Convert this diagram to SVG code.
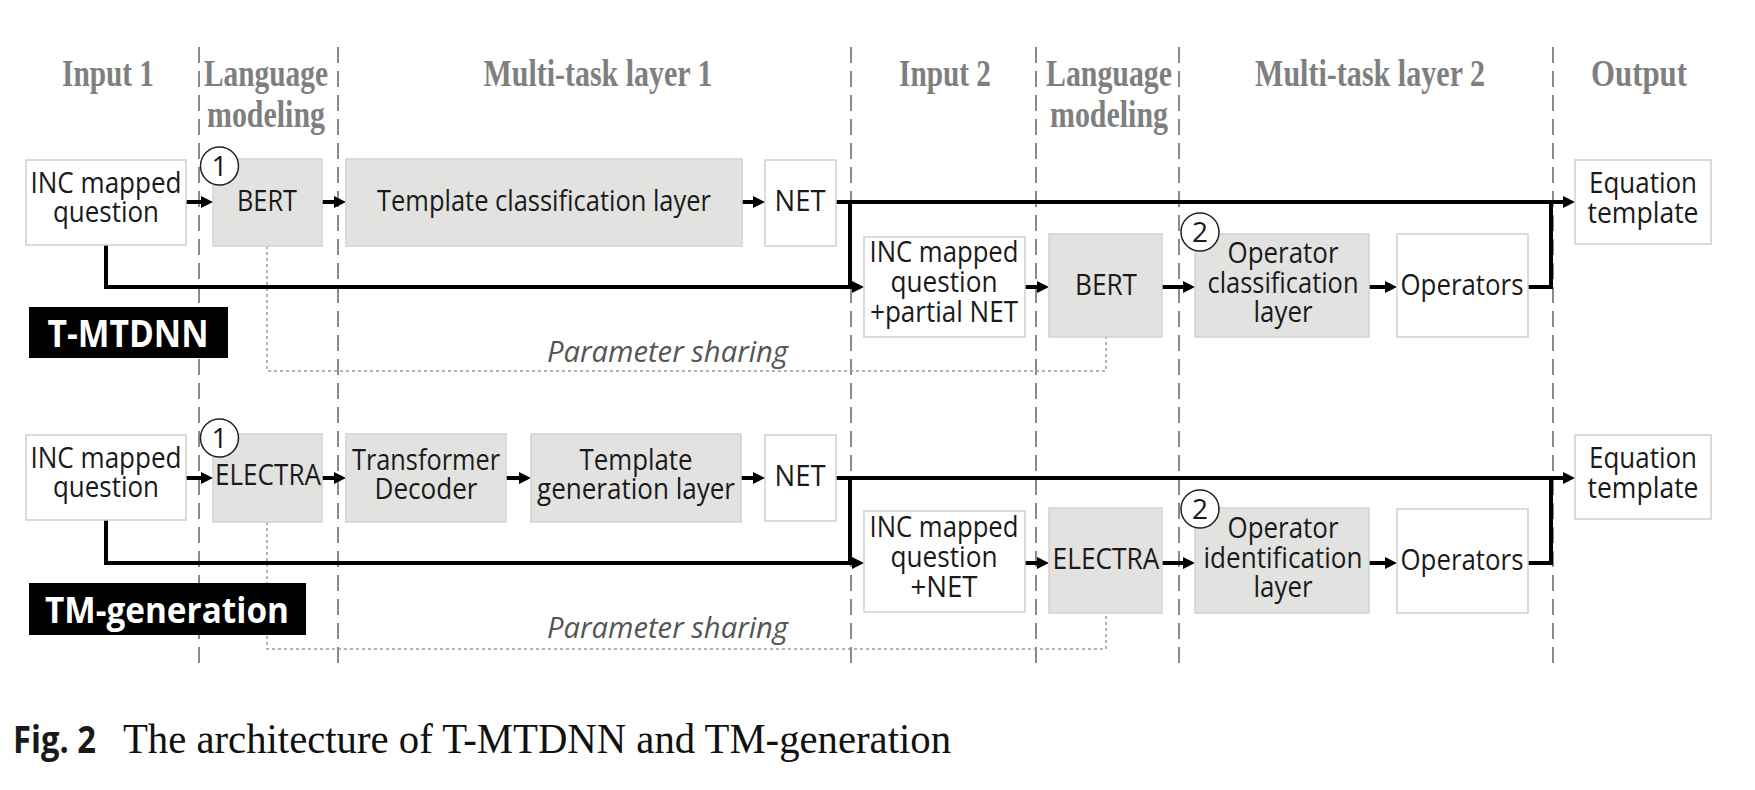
<svg xmlns="http://www.w3.org/2000/svg" width="1755" height="790" viewBox="0 0 1755 790">
<style>
.hdr{font-family:"Liberation Serif",serif;font-weight:bold;font-size:37px;fill:#7f7f7f;text-anchor:middle}
.bt{font-family:"Open Sans","Noto Sans",sans-serif;font-size:30px;fill:#1a1a1a;text-anchor:middle}
.wb{fill:#fff;stroke:#cfcfcf;stroke-width:1.5}
.gb{fill:#e2e2e1;stroke:#d2d2d2;stroke-width:1.5}
.sep{stroke:#8a8a8a;stroke-width:2;stroke-dasharray:16 8;fill:none}
.ln{stroke:#000;stroke-width:4;fill:none}
.arr{marker-end:url(#ah)}
.dot{stroke:#9a9a9a;stroke-width:1.5;stroke-dasharray:3 3;fill:none}
.circ{fill:#fff;stroke:#222;stroke-width:1.5}
.ct{font-family:"Open Sans","Noto Sans",sans-serif;font-size:28px;fill:#1a1a1a;text-anchor:middle}
.lbl{font-family:"Open Sans","Noto Sans",sans-serif;font-weight:bold;fill:#fff;text-anchor:middle}
.ps{font-family:"Open Sans","Noto Sans",sans-serif;font-style:italic;font-size:30px;fill:#555}
</style>
<defs>
<marker id="ah" markerUnits="userSpaceOnUse" viewBox="0 0 12 12" markerWidth="12" markerHeight="12" refX="6" refY="6" orient="auto">
<path d="M0,0 L12,6 L0,12 z" fill="#000"/>
</marker>
</defs>
<rect width="1755" height="790" fill="#fff"/>

<g id="separators">
<line class="sep" x1="199" y1="47" x2="199" y2="664"/>
<line class="sep" x1="338" y1="47" x2="338" y2="664"/>
<line class="sep" x1="851" y1="47" x2="851" y2="664"/>
<line class="sep" x1="1036" y1="47" x2="1036" y2="664"/>
<line class="sep" x1="1179" y1="47" x2="1179" y2="664"/>
<line class="sep" x1="1553" y1="47" x2="1553" y2="664"/>
</g>

<g id="headers">
<text class="hdr" x="108" y="86" textLength="92" lengthAdjust="spacingAndGlyphs">Input 1</text>
<text class="hdr"><tspan x="266" y="86" textLength="124" lengthAdjust="spacingAndGlyphs">Language</tspan><tspan x="266" y="127" textLength="118" lengthAdjust="spacingAndGlyphs">modeling</tspan></text>
<text class="hdr" x="598" y="86" textLength="229" lengthAdjust="spacingAndGlyphs">Multi-task layer 1</text>
<text class="hdr" x="945" y="86" textLength="92" lengthAdjust="spacingAndGlyphs">Input 2</text>
<text class="hdr"><tspan x="1109" y="86" textLength="126" lengthAdjust="spacingAndGlyphs">Language</tspan><tspan x="1109" y="127" textLength="118" lengthAdjust="spacingAndGlyphs">modeling</tspan></text>
<text class="hdr" x="1370" y="86" textLength="230" lengthAdjust="spacingAndGlyphs">Multi-task layer 2</text>
<text class="hdr" x="1639" y="86" textLength="96" lengthAdjust="spacingAndGlyphs">Output</text>
</g>

<g id="sharing">
<path class="dot" d="M267 246 V371 H1106 V337"/>
<path class="dot" d="M267 522 V649 H1106 V613"/>
<text class="ps" x="547" y="362" textLength="241" lengthAdjust="spacingAndGlyphs">Parameter sharing</text>
<text class="ps" x="547" y="638" textLength="241" lengthAdjust="spacingAndGlyphs">Parameter sharing</text>
</g>

<g id="connectors">
<path class="ln arr" d="M186 202 H207"/>
<path class="ln arr" d="M322 202 H340"/>
<path class="ln arr" d="M742 202 H759"/>
<path class="ln arr" d="M836 202 H1569"/>
<path class="ln arr" d="M106 245 V287 H858"/>
<path class="ln" d="M850 202 V287"/>
<path class="ln arr" d="M1025 287 H1043"/>
<path class="ln arr" d="M1162 287 H1189"/>
<path class="ln arr" d="M1369 287 H1391"/>
<path class="ln" d="M1528 287 H1551 V202"/>
<path class="ln arr" d="M186 478 H207"/>
<path class="ln arr" d="M322 478 H340"/>
<path class="ln arr" d="M506 478 H525"/>
<path class="ln arr" d="M741 478 H759"/>
<path class="ln arr" d="M836 478 H1569"/>
<path class="ln arr" d="M106 520 V563 H858"/>
<path class="ln" d="M850 478 V563"/>
<path class="ln arr" d="M1025 563 H1043"/>
<path class="ln arr" d="M1162 563 H1189"/>
<path class="ln arr" d="M1369 563 H1391"/>
<path class="ln" d="M1528 563 H1551 V478"/>
</g>

<g id="t-inc">
<rect class="wb" x="26" y="160" width="160" height="85"/>
<text class="bt"><tspan x="106" y="193" textLength="151" lengthAdjust="spacingAndGlyphs">INC mapped</tspan><tspan x="106" y="222" textLength="106" lengthAdjust="spacingAndGlyphs">question</tspan></text>
</g>
<g id="t-bert">
<rect class="gb" x="213" y="159" width="109" height="87"/>
<text class="bt" x="267" y="211" textLength="60" lengthAdjust="spacingAndGlyphs">BERT</text>
</g>
<g id="t-circle1">
<circle class="circ" cx="219.5" cy="166" r="19"/>
<text class="ct" x="219.5" y="176">1</text>
</g>
<g id="t-tcl">
<rect class="gb" x="346" y="159" width="396" height="87"/>
<text class="bt" x="544" y="211" textLength="334" lengthAdjust="spacingAndGlyphs">Template classification layer</text>
</g>
<g id="t-net">
<rect class="wb" x="765" y="160" width="71" height="86"/>
<text class="bt" x="800" y="211" textLength="51" lengthAdjust="spacingAndGlyphs">NET</text>
</g>
<g id="t-eq">
<rect class="wb" x="1575" y="160" width="136" height="84"/>
<text class="bt"><tspan x="1643" y="193" textLength="108" lengthAdjust="spacingAndGlyphs">Equation</tspan><tspan x="1643" y="223" textLength="111" lengthAdjust="spacingAndGlyphs">template</tspan></text>
</g>
<g id="t-inc2">
<rect class="wb" x="864" y="237" width="161" height="100"/>
<text class="bt"><tspan x="944" y="262" textLength="149" lengthAdjust="spacingAndGlyphs">INC mapped</tspan><tspan x="944" y="292" textLength="107" lengthAdjust="spacingAndGlyphs">question</tspan><tspan x="944" y="322" textLength="148" lengthAdjust="spacingAndGlyphs">+partial NET</tspan></text>
</g>
<g id="t-bert2">
<rect class="gb" x="1049" y="234" width="113" height="103"/>
<text class="bt" x="1106" y="295" textLength="62" lengthAdjust="spacingAndGlyphs">BERT</text>
</g>
<g id="t-ocl">
<rect class="gb" x="1195" y="234" width="174" height="103"/>
<text class="bt"><tspan x="1283" y="263" textLength="111" lengthAdjust="spacingAndGlyphs">Operator</tspan><tspan x="1283" y="293" textLength="151" lengthAdjust="spacingAndGlyphs">classification</tspan><tspan x="1283" y="322" textLength="59" lengthAdjust="spacingAndGlyphs">layer</tspan></text>
</g>
<g id="t-circle2">
<circle class="circ" cx="1200" cy="232" r="19"/>
<text class="ct" x="1200" y="242">2</text>
</g>
<g id="t-ops">
<rect class="wb" x="1397" y="234" width="131" height="103"/>
<text class="bt" x="1462" y="295" textLength="123" lengthAdjust="spacingAndGlyphs">Operators</text>
</g>
<g id="t-label">
<rect x="29" y="307" width="199" height="51" fill="#000"/>
<text class="lbl" x="128" y="347" font-size="38" textLength="161" lengthAdjust="spacingAndGlyphs">T-MTDNN</text>
</g>

<g id="g-inc">
<rect class="wb" x="26" y="435" width="160" height="85"/>
<text class="bt"><tspan x="106" y="468" textLength="151" lengthAdjust="spacingAndGlyphs">INC mapped</tspan><tspan x="106" y="497" textLength="106" lengthAdjust="spacingAndGlyphs">question</tspan></text>
</g>
<g id="g-electra">
<rect class="gb" x="213" y="434" width="109" height="88"/>
<text class="bt" x="268" y="485" textLength="106" lengthAdjust="spacingAndGlyphs">ELECTRA</text>
</g>
<g id="g-circle1">
<circle class="circ" cx="219.5" cy="438" r="19"/>
<text class="ct" x="219.5" y="448">1</text>
</g>
<g id="g-td">
<rect class="gb" x="346" y="434" width="160" height="88"/>
<text class="bt"><tspan x="426" y="470" textLength="148" lengthAdjust="spacingAndGlyphs">Transformer</tspan><tspan x="426" y="499" textLength="103" lengthAdjust="spacingAndGlyphs">Decoder</tspan></text>
</g>
<g id="g-tgl">
<rect class="gb" x="531" y="434" width="210" height="88"/>
<text class="bt"><tspan x="636" y="470" textLength="113" lengthAdjust="spacingAndGlyphs">Template</tspan><tspan x="636" y="499" textLength="198" lengthAdjust="spacingAndGlyphs">generation layer</tspan></text>
</g>
<g id="g-net">
<rect class="wb" x="765" y="435" width="71" height="86"/>
<text class="bt" x="800" y="486" textLength="51" lengthAdjust="spacingAndGlyphs">NET</text>
</g>
<g id="g-eq">
<rect class="wb" x="1575" y="435" width="136" height="84"/>
<text class="bt"><tspan x="1643" y="468" textLength="108" lengthAdjust="spacingAndGlyphs">Equation</tspan><tspan x="1643" y="498" textLength="111" lengthAdjust="spacingAndGlyphs">template</tspan></text>
</g>
<g id="g-inc2">
<rect class="wb" x="864" y="511" width="161" height="101"/>
<text class="bt"><tspan x="944" y="537" textLength="149" lengthAdjust="spacingAndGlyphs">INC mapped</tspan><tspan x="944" y="567" textLength="107" lengthAdjust="spacingAndGlyphs">question</tspan><tspan x="944" y="597" textLength="67" lengthAdjust="spacingAndGlyphs">+NET</tspan></text>
</g>
<g id="g-electra2">
<rect class="gb" x="1049" y="508" width="113" height="105"/>
<text class="bt" x="1106" y="569" textLength="107" lengthAdjust="spacingAndGlyphs">ELECTRA</text>
</g>
<g id="g-oil">
<rect class="gb" x="1195" y="508" width="174" height="105"/>
<text class="bt"><tspan x="1283" y="538" textLength="111" lengthAdjust="spacingAndGlyphs">Operator</tspan><tspan x="1283" y="568" textLength="159" lengthAdjust="spacingAndGlyphs">identification</tspan><tspan x="1283" y="597" textLength="59" lengthAdjust="spacingAndGlyphs">layer</tspan></text>
</g>
<g id="g-circle2">
<circle class="circ" cx="1200" cy="509" r="19"/>
<text class="ct" x="1200" y="519">2</text>
</g>
<g id="g-ops">
<rect class="wb" x="1397" y="509" width="131" height="104"/>
<text class="bt" x="1462" y="570" textLength="123" lengthAdjust="spacingAndGlyphs">Operators</text>
</g>
<g id="g-label">
<rect x="29" y="583" width="277" height="52" fill="#000"/>
<text class="lbl" x="167" y="623" font-size="36" textLength="244" lengthAdjust="spacingAndGlyphs">TM-generation</text>
</g>

<g id="caption">
<text x="13" y="753" font-family="'Open Sans','Noto Sans',sans-serif" font-weight="bold" font-size="37" fill="#1a1a1a" textLength="83" lengthAdjust="spacingAndGlyphs">Fig. 2</text>
<text x="123" y="753" font-family="'Liberation Serif',serif" font-size="42" fill="#111" textLength="828" lengthAdjust="spacingAndGlyphs">The architecture of T-MTDNN and TM-generation</text>
</g>
</svg>
